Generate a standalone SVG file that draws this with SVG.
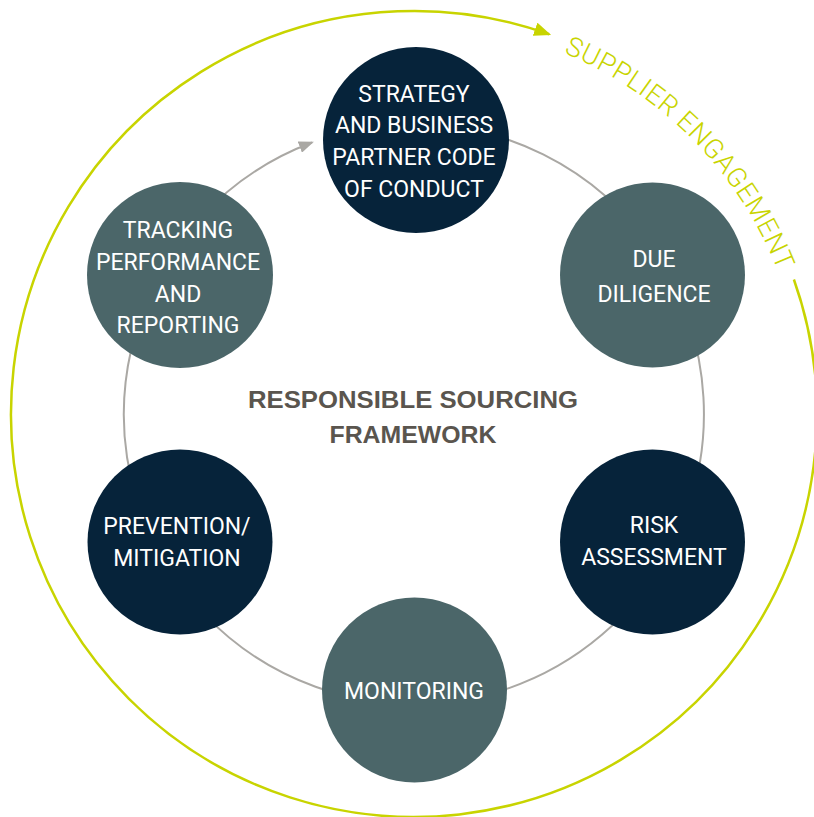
<svg xmlns="http://www.w3.org/2000/svg" width="814" height="817" viewBox="0 0 814 817">
<style>
.ring{fill:none;stroke:#aaa8a4;stroke-width:2}
.outer{fill:none;stroke:#c8d400;stroke-width:2.5}
.navy{fill:#06233a}
.teal{fill:#4b6669}
.lbl{font-family:Roboto,"Liberation Sans",sans-serif;font-size:23px;fill:#ffffff;text-anchor:middle}
.title{font-family:"Liberation Sans",Arial,sans-serif;font-weight:bold;font-size:24px;fill:#5a554e;text-anchor:middle}
.sup{font-family:Roboto,"Liberation Sans",sans-serif;font-weight:300;font-size:27px;fill:#c8d400}
</style>
<defs>
<marker id="ag" viewBox="0 0 15 12" refX="13" refY="6" markerWidth="15" markerHeight="12" markerUnits="userSpaceOnUse" orient="auto">
<path d="M0,0 L15,6 L0,12 z" fill="#aaa8a4"/>
</marker>
<marker id="ay" viewBox="0 0 17 14" refX="15" refY="7" markerWidth="17" markerHeight="14" markerUnits="userSpaceOnUse" orient="auto">
<path d="M0,0 L17,7 L0,14 z" fill="#c8d400"/>
</marker>
<path id="supPath" d="M 563.6 52.8 A 391 391 0 0 1 799.1 346.1"/>
</defs>
<g id="connectors">
<path class="outer" d="M 793.9 279.5 A 403 403 0 1 1 549.2 34.3" marker-end="url(#ay)"/>
<path class="ring" d="M 414 124 A 290 290 0 1 1 312 142.5" marker-end="url(#ag)"/>
</g>
<g id="supplier-engagement">
<text class="sup"><textPath href="#supPath" textLength="314" lengthAdjust="spacing">SUPPLIER ENGAGEMENT</textPath></text>
</g>
<g id="title">
<text class="title" x="413" y="408" textLength="330" lengthAdjust="spacingAndGlyphs">RESPONSIBLE SOURCING</text>
<text class="title" x="413" y="443" textLength="167" lengthAdjust="spacingAndGlyphs">FRAMEWORK</text>
</g>
<g id="strategy">
<circle class="navy" cx="416" cy="140" r="93"/>
<text class="lbl" x="414" y="102">STRATEGY</text>
<text class="lbl" x="414" y="133">AND BUSINESS</text>
<text class="lbl" x="414" y="165">PARTNER CODE</text>
<text class="lbl" x="414" y="197">OF CONDUCT</text>
</g>
<g id="due-diligence">
<circle class="teal" cx="652.5" cy="275" r="92.5"/>
<text class="lbl" x="654" y="267">DUE</text>
<text class="lbl" x="654" y="302">DILIGENCE</text>
</g>
<g id="risk-assessment">
<circle class="navy" cx="652.5" cy="542" r="92.5"/>
<text class="lbl" x="654" y="533">RISK</text>
<text class="lbl" x="654" y="565">ASSESSMENT</text>
</g>
<g id="monitoring">
<circle class="teal" cx="414.5" cy="690" r="92.5"/>
<text class="lbl" x="414" y="699">MONITORING</text>
</g>
<g id="prevention">
<circle class="navy" cx="180" cy="542" r="92.5"/>
<text class="lbl" x="177" y="534">PREVENTION/</text>
<text class="lbl" x="177" y="566">MITIGATION</text>
</g>
<g id="tracking">
<circle class="teal" cx="180" cy="275" r="93"/>
<text class="lbl" x="178" y="238">TRACKING</text>
<text class="lbl" x="178" y="270">PERFORMANCE</text>
<text class="lbl" x="178" y="302">AND</text>
<text class="lbl" x="178" y="333">REPORTING</text>
</g>
</svg>
